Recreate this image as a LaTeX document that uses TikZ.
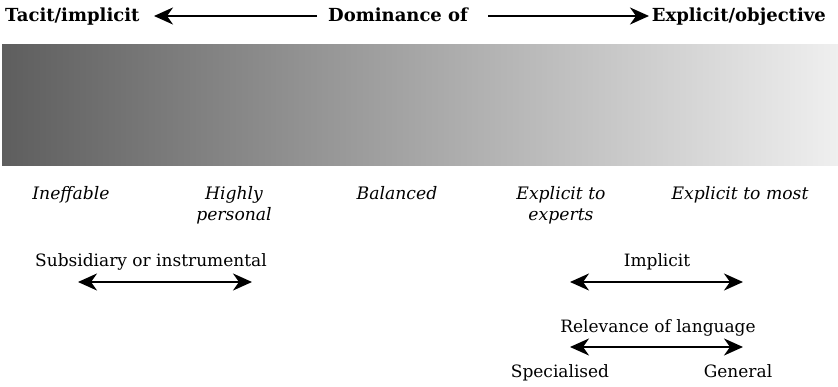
\documentclass[tikz,border=0pt]{standalone}
\usepackage{fontspec}
\setmainfont{DejaVu Serif}
\usetikzlibrary{arrows.meta}
\begin{document}
\begin{tikzpicture}[x=1pt,y=-1pt,
  lbl/.style={font=\fontsize{17}{20}\selectfont, inner sep=0pt, anchor=base},
  ttl/.style={font=\fontsize{18}{21}\selectfont\bfseries, inner sep=0pt},
  itl/.style={font=\fontsize{17.2}{21.5}\selectfont\itshape, inner sep=0pt, align=center, anchor=north},
  arr/.style={line width=2.2pt, -{Stealth[length=19pt,width=17pt,inset=6pt]}},
  darr/.style={line width=2.2pt, {Stealth[length=19pt,width=17pt,inset=6pt]}-{Stealth[length=19pt,width=17pt,inset=6pt]}}]
\useasboundingbox (0,0) rectangle (838,387);
% gradient band
\shade[left color={rgb,255:red,94;green,94;blue,94}, right color={rgb,255:red,239;green,239;blue,239}] (2,45) rectangle (838,166);
% title row
\node[ttl, anchor=base west] (tacit) at (5,22) {Tacit/implicit};
\node[ttl, anchor=base west] (dom) at (328,22) {Dominance of};
\node[ttl, anchor=base east] (expl) at (826,22) {Explicit/objective};
\coordinate (la) at (154,16);
\coordinate (lb) at (317,16);
\coordinate (ra) at (488,16);
\coordinate (rb) at (649,16);
\draw[arr] (lb) -- (la);
\draw[arr] (ra) -- (rb);
% italic labels
\node[itl] (ineff) at (71,186) {Ineffable};
\node[itl] (highly) at (234,186) {Highly\\personal};
\node[itl] (bal) at (397,186) {Balanced};
\node[itl] (exexp) at (561,186) {Explicit to\\experts};
\node[itl] (exmost) at (740,186) {Explicit to most};
% lower section
\node[lbl] (subs) at (151,267) {Subsidiary or instrumental};
\coordinate (sa) at (78,282);
\coordinate (sb) at (252,282);
\draw[darr] (sa) -- (sb);
\node[lbl] (impl) at (657,267) {Implicit};
\coordinate (ia) at (570,282);
\coordinate (ib) at (743,282);
\draw[darr] (ia) -- (ib);
\node[lbl] (rel) at (658,333) {Relevance of language};
\coordinate (rla) at (570,347);
\coordinate (rlb) at (743,347);
\draw[darr] (rla) -- (rlb);
\node[lbl] (spec) at (560,377) {Specialised};
\node[lbl] (gen) at (738,377) {General};
\end{tikzpicture}
\end{document}
